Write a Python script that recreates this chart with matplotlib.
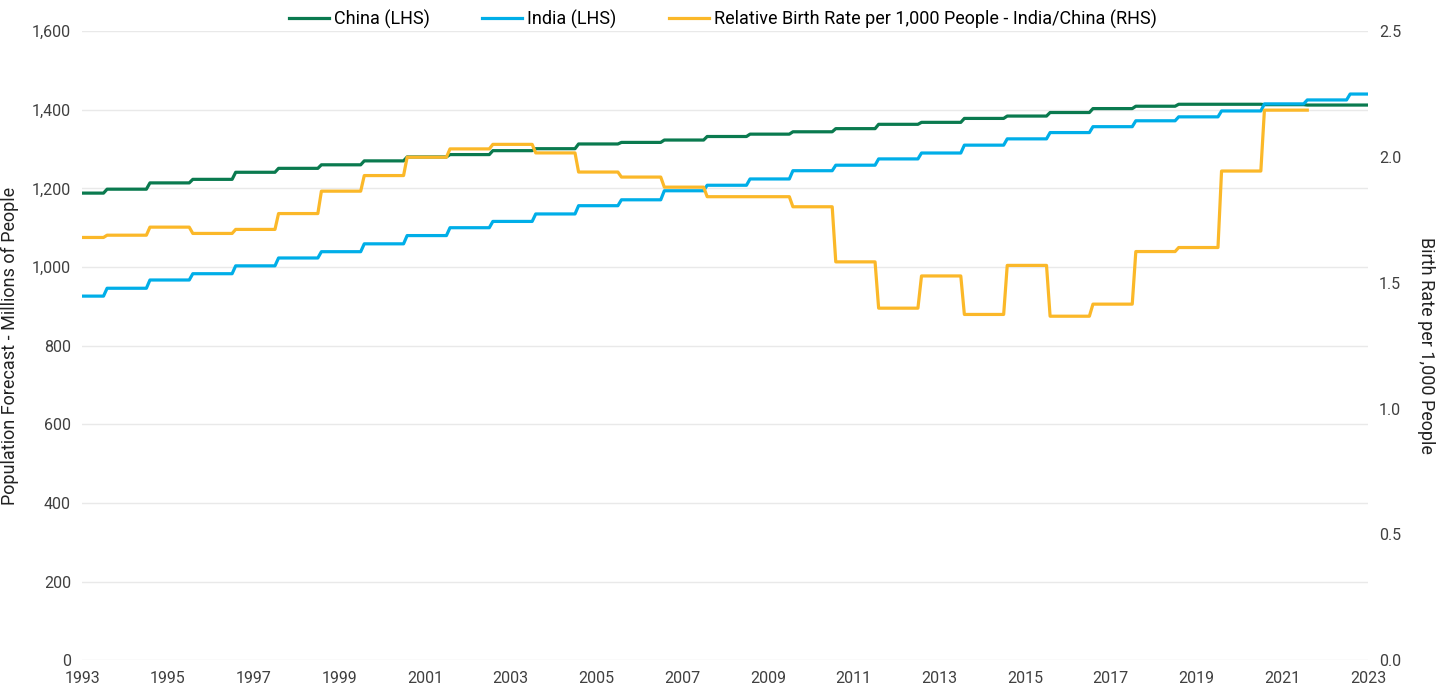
import numpy as np
import matplotlib.pyplot as plt
from matplotlib.ticker import FuncFormatter, MultipleLocator

plt.rcParams['font.family'] = ['Roboto', 'DejaVu Sans']

# annual values, each one holds from mid-year to mid-year (first one from Jan 1993)
china = [1188, 1198, 1214, 1223, 1241, 1251, 1260, 1270, 1280, 1286,
         1296, 1301, 1313, 1317, 1323, 1332, 1338, 1344, 1352, 1363,
         1368, 1378, 1384, 1393, 1403, 1409, 1414, 1414, 1413, 1412, 1412]
india = [926, 946, 967, 983, 1003, 1023, 1039, 1059, 1080, 1100,
         1116, 1135, 1156, 1171, 1194, 1208, 1224, 1245, 1259, 1275,
         1290, 1310, 1326, 1342, 1357, 1372, 1382, 1397, 1415, 1425, 1440]
birth_ratio = [1.680, 1.689, 1.721, 1.696, 1.712, 1.775, 1.864, 1.926, 1.999, 2.032,
               2.050, 2.016, 1.940, 1.920, 1.880, 1.842, 1.842, 1.802, 1.583, 1.399,
               1.527, 1.374, 1.569, 1.367, 1.415, 1.624, 1.640, 1.944, 2.186]

start_year = 1993
n_months_pop = 361    # Jan 1993 .. Jan 2023
n_months_birth = 344  # Jan 1993 .. Aug 2021
year_ticks = list(range(1993, 2024, 2))


def monthly(values, n):
    m = np.arange(n)
    idx = np.minimum((m + 5) // 12, len(values) - 1)
    return start_year + m / 12, np.array(values)[idx]


fig = plt.figure(figsize=(14.4, 6.92), dpi=100)
ax = fig.add_axes([0.057, 0.046, 0.893, 0.909])
ax2 = ax.twinx()

x, y = monthly(china, n_months_pop)
l1, = ax.plot(x, y, color='#0a7a4f', lw=2.3, label='China (LHS)')
x, y = monthly(india, n_months_pop)
l2, = ax.plot(x, y, color='#00aee8', lw=2.3, label='India (LHS)')
x, y = monthly(birth_ratio, n_months_birth)
l3, = ax2.plot(x, y, color='#fbb829', lw=2.3,
               label='Relative Birth Rate per 1,000 People - India/China (RHS)')

ax.set_xlim(1993, 2023)
ax.set_ylim(0, 1600)
ax2.set_ylim(0, 2.5)
ax.set_xticks(year_ticks)
ax.yaxis.set_major_locator(MultipleLocator(200))
ax2.yaxis.set_major_locator(MultipleLocator(0.5))
ax.yaxis.set_major_formatter(FuncFormatter(lambda v, p: f'{v:,.0f}'))
ax2.yaxis.set_major_formatter(FuncFormatter(lambda v, p: f'{v:.1f}'))

ax.grid(axis='y', color='#e9e9e9', lw=1)
ax.set_axisbelow(True)
for a in (ax, ax2):
    for s in a.spines.values():
        s.set_visible(False)
    a.tick_params(length=0, labelsize=11.5, labelcolor='#404040', pad=8)

ax.set_ylabel('Population Forecast - Millions of People', fontsize=13, color='#222222', labelpad=9)
ax2.set_ylabel('Birth Rate per 1,000 People', fontsize=13, color='#222222',
               rotation=270, labelpad=24)

fig.legend(handles=[l1, l2, l3], loc='upper center', bbox_to_anchor=(0.502, 1.01),
           ncol=3, frameon=False, fontsize=13, columnspacing=2.9, handlelength=2.2,
           handletextpad=0.3)

fig.savefig('out.png', dpi=100)
